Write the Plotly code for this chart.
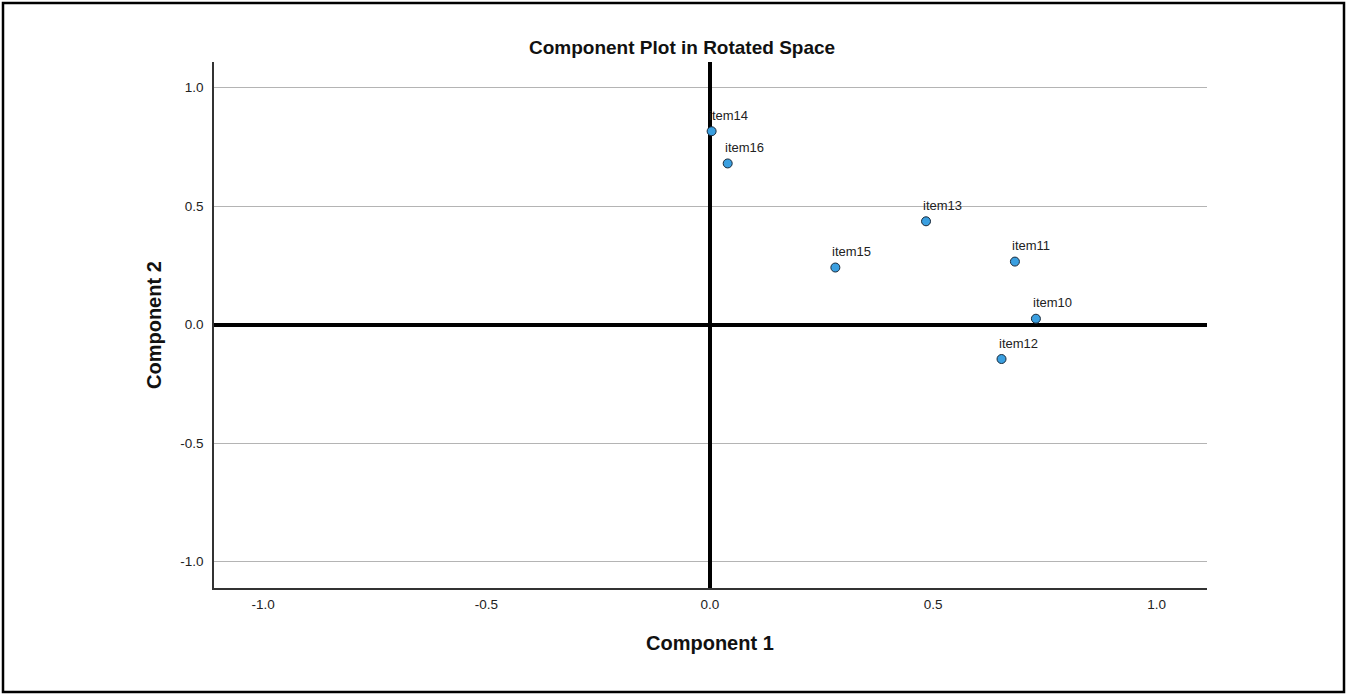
import plotly.graph_objects as go

# Rotated component loadings
items = ["item10", "item11", "item12", "item13", "item14", "item15", "item16"]
comp1 = [0.730, 0.683, 0.653, 0.484, 0.004, 0.281, 0.040]
comp2 = [0.025, 0.266, -0.145, 0.436, 0.816, 0.241, 0.680]

tick_vals = [-1.0, -0.5, 0.0, 0.5, 1.0]
tick_text = ["-1.0", "-0.5", "0.0", "0.5", "1.0"]

W, H = 1347, 695
L, R, T, B = 214, 140, 62, 107
PW, PH = W - L - R, H - T - B


def px(x):
    return (x - L) / PW


def py(y):
    return (H - B - y) / PH


FONT = "Liberation Sans, Arial, sans-serif"

fig = go.Figure()
fig.add_trace(go.Scatter(
    x=comp1, y=comp2, mode="markers",
    marker=dict(size=9, color="#3a9fe0", line=dict(color="#1b2a3a", width=1)),
    hoverinfo="text", text=items, showlegend=False,
))

# point labels, placed just above and slightly left-aligned to each marker
for name, cx, cy in zip(items, comp1, comp2):
    fig.add_annotation(
        x=cx, y=cy, text=name, showarrow=False,
        xanchor="left", yanchor="middle", xshift=-5, yshift=16,
        font=dict(family=FONT, size=13, color="#222222"),
    )

fig.update_xaxes(
    range=[-1.11, 1.113], tickvals=tick_vals, ticktext=tick_text,
    showgrid=False, zeroline=True, zerolinecolor="#000000", zerolinewidth=4,
    showline=True, linecolor="#333333", linewidth=1.5, mirror=False,
    ticks="outside", ticklen=3, tickcolor="rgba(0,0,0,0)",
    tickfont=dict(family=FONT, size=13.5, color="#222222"),
)
fig.update_yaxes(
    range=[-1.111, 1.108], tickvals=tick_vals, ticktext=tick_text,
    showgrid=True, gridcolor="#b4b4b4", gridwidth=1,
    zeroline=True, zerolinecolor="#000000", zerolinewidth=4,
    showline=True, linecolor="#333333", linewidth=1.5, mirror=False,
    ticks="outside", ticklen=6, tickcolor="rgba(0,0,0,0)",
    tickfont=dict(family=FONT, size=13.5, color="#222222"),
)

# chart title and axis titles
fig.add_annotation(
    x=px(682), y=py(47), xref="paper", yref="paper", showarrow=False,
    text="<b>Component Plot in Rotated Space</b>",
    xanchor="center", yanchor="middle",
    font=dict(family=FONT, size=19, color="#111111"),
)
fig.add_annotation(
    x=px(710), y=py(643), xref="paper", yref="paper", showarrow=False,
    text="<b>Component 1</b>", xanchor="center", yanchor="middle",
    font=dict(family=FONT, size=20, color="#111111"),
)
fig.add_annotation(
    x=px(154), y=py(325), xref="paper", yref="paper", showarrow=False,
    text="<b>Component 2</b>", textangle=-90, xanchor="center", yanchor="middle",
    font=dict(family=FONT, size=20, color="#111111"),
)

# outer frame around the whole chart
fig.add_shape(
    type="rect", xref="paper", yref="paper",
    x0=px(3), x1=px(1344), y0=py(692), y1=py(3),
    line=dict(color="#000000", width=2.5), fillcolor="rgba(0,0,0,0)",
)

fig.update_layout(
    width=W, height=H,
    margin=dict(l=L, r=R, t=T, b=B, autoexpand=False),
    plot_bgcolor="white", paper_bgcolor="white",
    showlegend=False,
)

fig.write_html("out.html")
